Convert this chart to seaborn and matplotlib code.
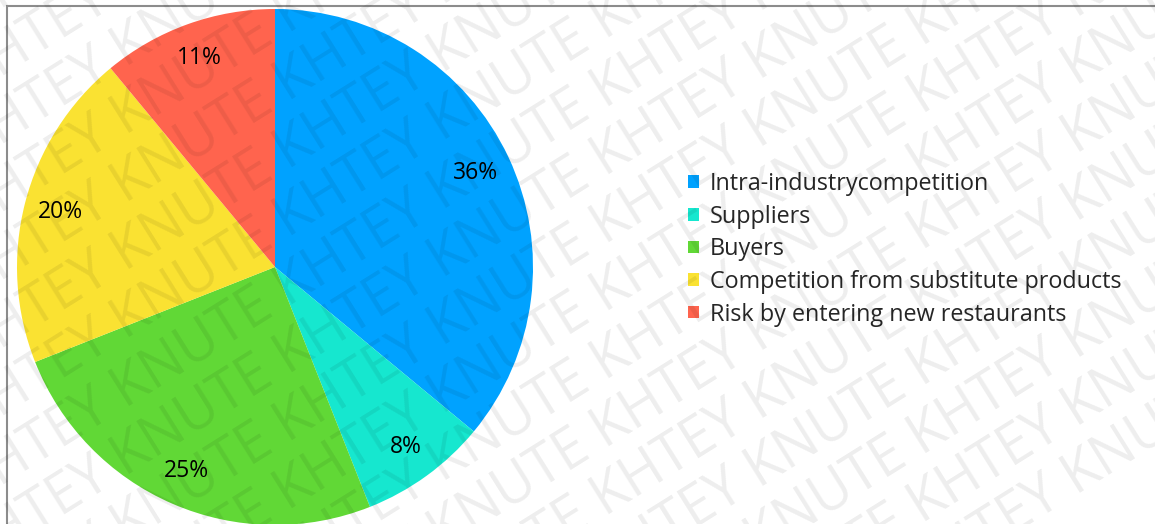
import matplotlib
matplotlib.use("Agg")
import matplotlib.pyplot as plt
import seaborn as sns
from matplotlib.patches import Rectangle

sns.set_theme(style="white")
plt.rcParams['font.family'] = ['Open Sans', 'DejaVu Sans']

categories = ["Intra-industrycompetition", "Suppliers", "Buyers",
              "Competition from substitute products", "Risk by entering new restaurants"]
values = [36, 8, 25, 20, 11]
colors = ["#00A2FF", "#16E7CF", "#61D836", "#FAE232", "#FF644E"]

W, H = 1155, 524
fig = plt.figure(figsize=(W / 100, H / 100), dpi=100)
fig.patch.set_facecolor("white")

# frame
fig.patches.append(Rectangle((7 / W, -0.1), 1.2, (H - 6) / H + 0.1, transform=fig.transFigure,
                             fill=False, edgecolor="#8c8c8c", linewidth=1.5, zorder=0))

cx, cy, r = 275, 267, 258
ax = fig.add_axes([(cx - r) / W, (H - cy - r) / H, 2 * r / W, 2 * r / H])
wedges, texts, autotexts = ax.pie(values, colors=colors, startangle=90, counterclock=False,
                                  autopct="%d%%", pctdistance=0.86, radius=1,
                                  wedgeprops=dict(linewidth=0),
                                  textprops=dict(fontsize=16.5, color="black"))
ax.set_xlim(-1, 1)
ax.set_ylim(-1, 1)
ax.set_aspect("equal")
ax.axis("off")

fig.legend(wedges, categories, loc="upper left", bbox_to_anchor=(688 / W, 1 - 172 / H),
           frameon=False, fontsize=16.8, handlelength=0.45, handleheight=0.45,
           handletextpad=0.5, labelspacing=0.37, borderpad=0, borderaxespad=0)

# watermark
wm = "KHTEY KNUTE " * 10
for i in range(-8, 12):
    fig.text(-0.3, -0.6 + i * 0.13, wm, fontsize=40, color="#000000", alpha=0.07,
             rotation=32, rotation_mode="anchor", ha="left", va="baseline",
             transform=fig.transFigure, zorder=10, family=["Open Sans", "DejaVu Sans"])

fig.savefig("out.png", dpi=100)
